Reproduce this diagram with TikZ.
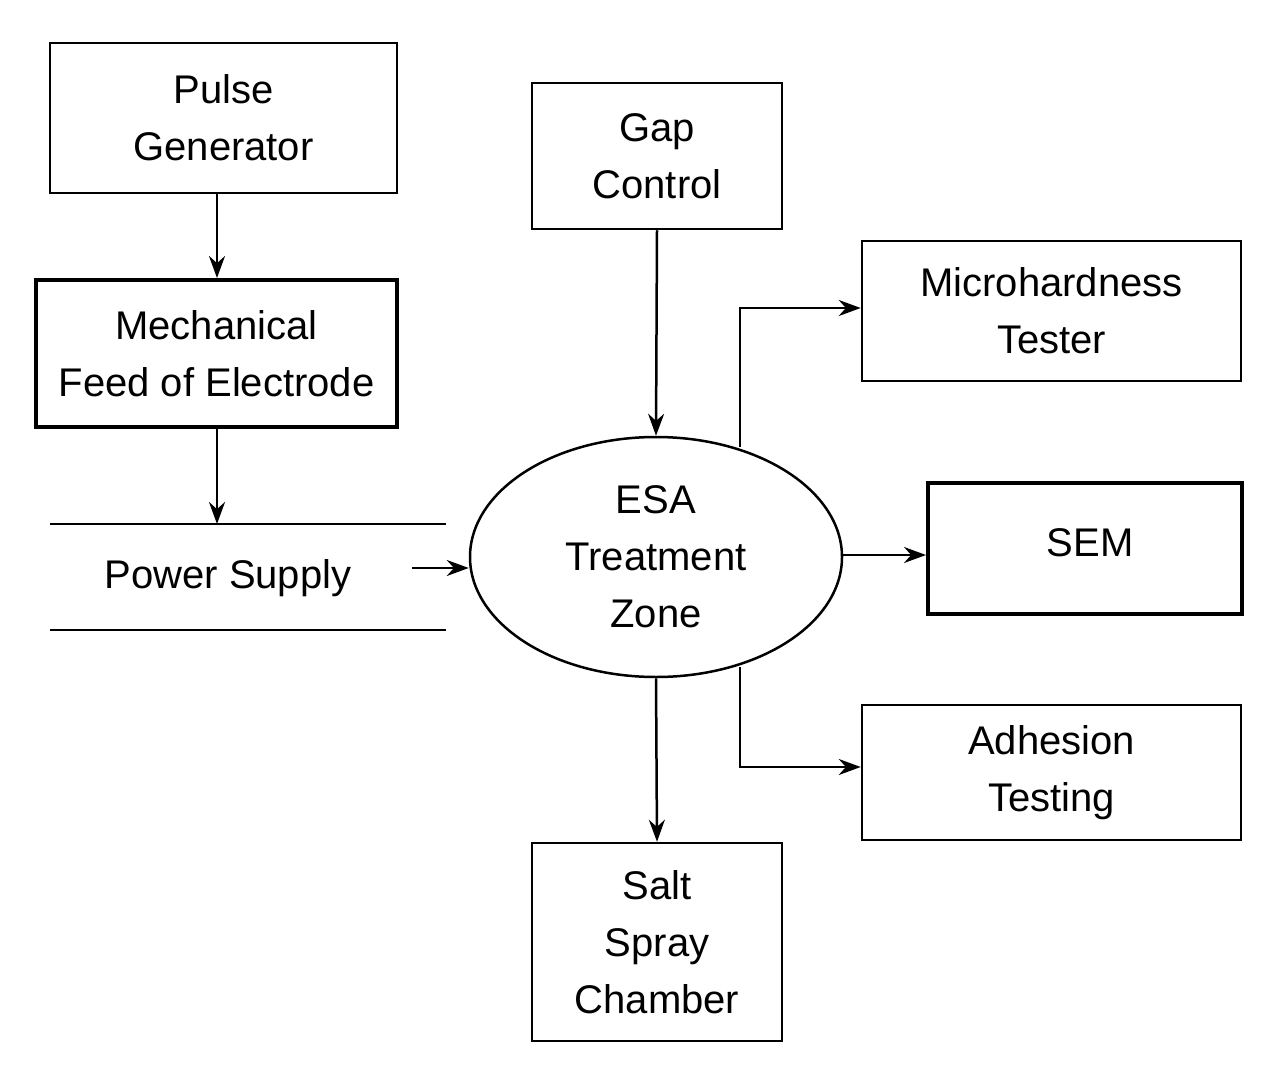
\documentclass[tikz,border=0pt]{standalone}
\usepackage{fontspec}
\setmainfont{Liberation Sans}
\usetikzlibrary{arrows.meta,shapes.geometric}
\begin{document}
\begin{tikzpicture}[x=1pt,y=-1pt,
  box/.style={draw,line width=2.5pt,align=center,inner sep=0pt,font=\fontsize{40}{57}\selectfont},
  thick box/.style={box,line width=4pt},
  arr/.style={line width=2.5pt,-{Stealth[length=22pt,width=16pt]}},
  ln/.style={line width=2.5pt}]
\useasboundingbox (0,0) rectangle (1282,1081);
\node[box,minimum width=347pt,minimum height=150pt] (pg) at (223.5,118) {Pulse\\Generator};
\node[thick box,minimum width=361pt,minimum height=147pt] (mf) at (216.5,353.5) {Mechanical\\Feed of Electrode};
\coordinate (l1a) at (50,524); \coordinate (l1b) at (446,524);
\coordinate (l2a) at (50,630); \coordinate (l2b) at (446,630);
\draw[ln] (l1a) -- (l1b); \draw[ln] (l2a) -- (l2b);
\node[font=\fontsize{40}{57}\selectfont] (ps) at (228,578) {Power Supply};
\node[draw,ellipse,line width=2.5pt,minimum width=372pt,minimum height=240pt,align=center,inner sep=0pt,font=\fontsize{40}{57}\selectfont] (esa) at (656,557) {ESA\\Treatment\\Zone};
\node[box,minimum width=250pt,minimum height=146pt] (gc) at (657,156) {Gap\\Control};
\node[box,minimum width=379pt,minimum height=140pt] (mh) at (1051.5,311) {Microhardness\\Tester};
\node[thick box,minimum width=314pt,minimum height=131pt] (sem) at (1085,548.5) {};
\node[font=\fontsize{40}{57}\selectfont] (semt) at (1090,543) {SEM};
\node[box,minimum width=379pt,minimum height=135pt] (ad) at (1051.5,772.5) {Adhesion\\Testing};
\node[box,minimum width=250pt,minimum height=198pt] (ss) at (657,942) {Salt\\Spray\\Chamber};
\coordinate (mfl) at (217,524);
\coordinate (psa) at (412,568);
\draw[arr] (pg.south -| 217,0) -- (mf.north -| 217,0);
\draw[arr] (mf.south -| 217,0) -- (mfl);
\draw[arr] (psa) -- (esa.west |- psa);
\draw[arr] (gc.south) -- (esa.north);
\draw[arr] (esa.south) -- (ss.north);
\draw[arr] (esa.east |- 0,555) -- (sem.west |- 0,555);
\coordinate (u) at (740,447); \coordinate (d) at (740,667);
\draw[arr] (u) -- (740,308) -- (mh.west |- 0,308);
\draw[arr] (d) -- (740,767) -- (ad.west |- 0,767);
\end{tikzpicture}
\end{document}
